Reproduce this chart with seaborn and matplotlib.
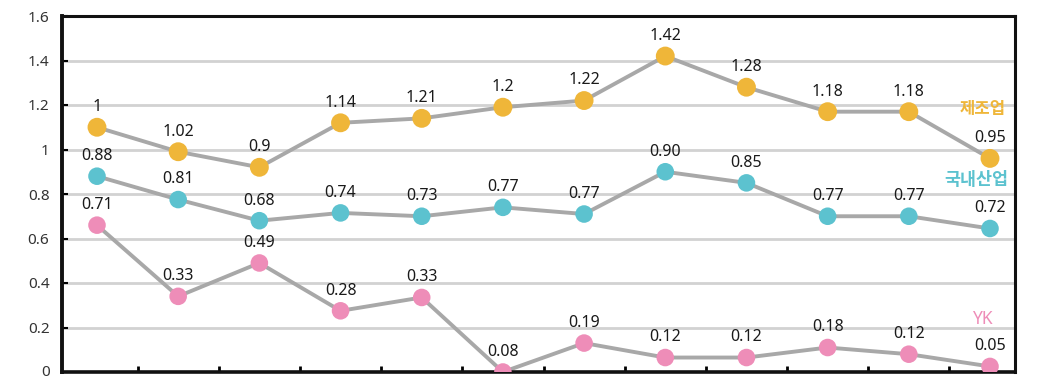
import numpy as np
import pandas as pd
import matplotlib
matplotlib.use("Agg")
import matplotlib.pyplot as plt
import matplotlib.transforms as mtransforms
import seaborn as sns
from matplotlib.ticker import FixedLocator

sns.set_theme(style="white")
plt.rcParams['font.family'] = ['Noto Sans', 'Noto Sans CJK KR', 'DejaVu Sans']

# ---- data ----
periods = list(range(12))
series_names = ["제조업", "국내산업", "YK"]
mfg_pos = [1.10, 0.99, 0.92, 1.12, 1.14, 1.19, 1.22, 1.42, 1.28, 1.17, 1.17, 0.96]
mfg_labels = ["1", "1.02", "0.9", "1.14", "1.21", "1.2", "1.22", "1.42", "1.28", "1.18", "1.18", "0.95"]
dom_pos = [0.88, 0.775, 0.68, 0.715, 0.70, 0.74, 0.71, 0.90, 0.85, 0.70, 0.70, 0.645]
dom_labels = ["0.88", "0.81", "0.68", "0.74", "0.73", "0.77", "0.77", "0.90", "0.85", "0.77", "0.77", "0.72"]
yk_pos = [0.66, 0.34, 0.49, 0.275, 0.335, 0.0, 0.13, 0.065, 0.065, 0.11, 0.08, 0.025]
yk_labels = ["0.71", "0.33", "0.49", "0.28", "0.33", "0.08", "0.19", "0.12", "0.12", "0.18", "0.12", "0.05"]
y_ticks = [0, 0.2, 0.4, 0.6, 0.8, 1, 1.2, 1.4, 1.6]
y_tick_labels = ["0", "0.2", "0.4", "0.6", "0.8", "1", "1.2", "1.4", "1.6"]

colors = {"제조업": "#EFB639", "국내산업": "#5CC2CF", "YK": "#EE8DB8"}
marker_sizes = {"제조업": 185, "국내산업": 160, "YK": 160}

df = pd.concat([
    pd.DataFrame({"x": periods, "y": mfg_pos, "label": mfg_labels, "series": "제조업"}),
    pd.DataFrame({"x": periods, "y": dom_pos, "label": dom_labels, "series": "국내산업"}),
    pd.DataFrame({"x": periods, "y": yk_pos, "label": yk_labels, "series": "YK"}),
], ignore_index=True)

fig = plt.figure(figsize=(10.38, 3.78), dpi=100)
ax = fig.add_axes([62/1038, 6/378, (1015-62)/1038, (372-16)/378])

for y in y_ticks[1:-1]:
    ax.axhline(y, color="#d2d2d2", lw=2, zorder=0)

for name in series_names:
    sub = df[df["series"] == name]
    sns.lineplot(data=sub, x="x", y="y", color="#a8a8a8", lw=2.8, ax=ax,
                 legend=False, zorder=2, sort=False)
    sns.scatterplot(data=sub, x="x", y="y", color=colors[name], s=marker_sizes[name],
                    edgecolor="none", ax=ax, legend=False, zorder=3)
    for _, r in sub.iterrows():
        ax.annotate(r["label"], (r["x"], r["y"]), xytext=(0, 14.5),
                    textcoords="offset points", ha="center", va="center",
                    fontsize=11.5, color="#1a1a1a", zorder=4)

# series names
ax.text(10.91, 1.18, "제조업", color=colors["제조업"], fontsize=12,
        fontweight="bold", ha="center", va="center", family=['Noto Sans CJK KR'])
ax.text(10.83, 0.865, "국내산업", color=colors["국내산업"], fontsize=12.5,
        fontweight="bold", ha="center", va="center", family=['Noto Sans CJK KR'])
ax.text(10.91, 0.24, "YK", color=colors["YK"], fontsize=12.5,
        ha="center", va="center")

spacing = (990 - 97) / 11
ax.set_xlim(-(97 - 62) / spacing, 11 + (1015 - 990) / spacing)
ax.set_ylim(0, 1.6)
ax.set_yticks(y_ticks)
ax.set_yticklabels(y_tick_labels)
ax.set_xticks([])
ax.xaxis.set_minor_locator(FixedLocator([i + 0.5 for i in range(11)]))
ax.tick_params(axis="x", which="minor", direction="in", length=4, width=2, color="black", bottom=True)
ax.tick_params(axis="y", direction="in", length=4, width=1.5, color="black", left=True,
               labelsize=11, labelcolor="#333333", pad=9)
# nudge the "0" label up so it stays inside the figure
lbl0 = ax.get_yticklabels()[0]
lbl0.set_transform(lbl0.get_transform() + mtransforms.ScaledTranslation(0, 2/100, fig.dpi_scale_trans))
ax.set_xlabel("")
ax.set_ylabel("")
for side, sp in ax.spines.items():
    sp.set_visible(True)
    sp.set_color("#111111")
    sp.set_linewidth(2.2)
ax.spines["left"].set_linewidth(2.8)
ax.spines["bottom"].set_linewidth(2.6)

fig.savefig("out.png", dpi=100, facecolor="white")
